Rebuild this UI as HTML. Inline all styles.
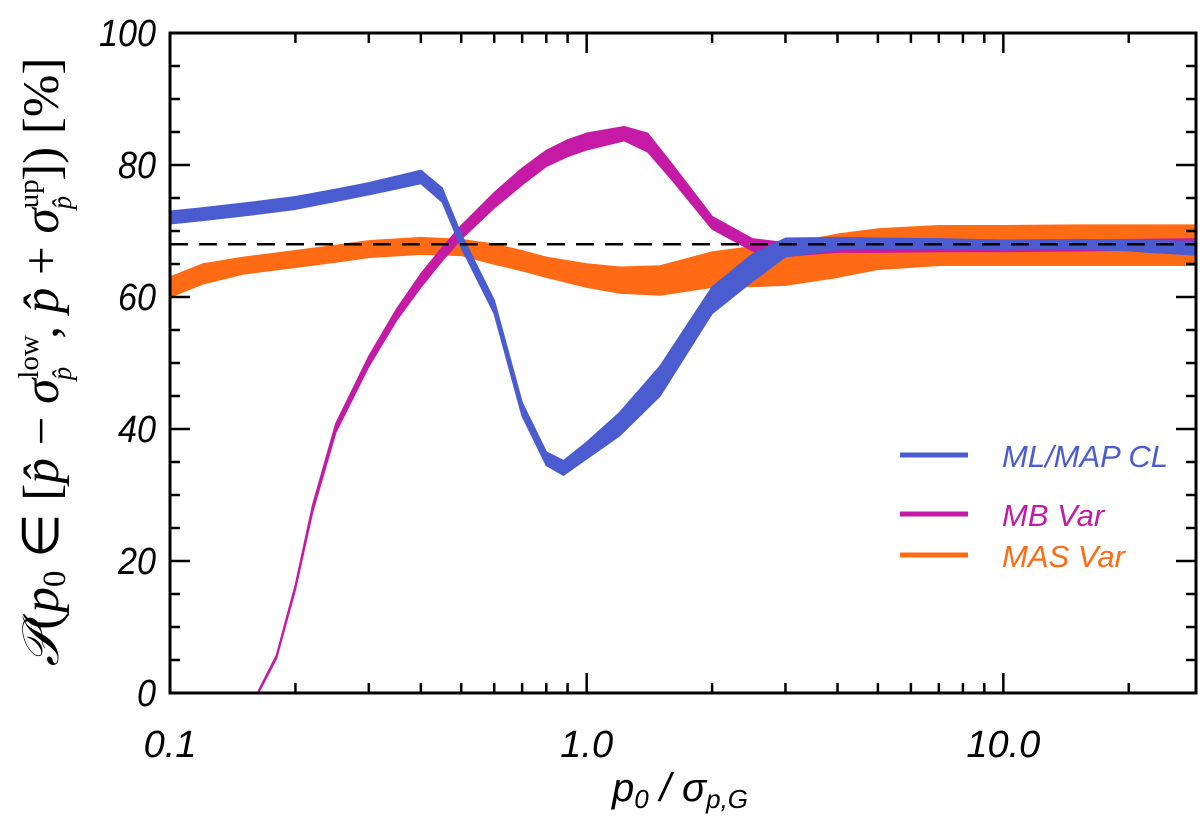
<!DOCTYPE html>
<html><head><meta charset="utf-8"><style>
html,body{margin:0;padding:0;background:#fff}
svg{display:block}
.sans{font-family:"Liberation Sans",sans-serif}
.serif{font-family:"Liberation Serif",serif}
</style></head><body>
<svg id="chart" width="1200" height="827" viewBox="0 0 1200 827">
<g id="bands"></g>
<g id="axes"></g>
<g id="legend" class="sans">
 <line x1="900" y1="455" x2="968" y2="455" stroke="#4a5ccf" stroke-width="5"/>
 <text x="1002" y="467" font-size="31" font-style="italic" fill="#4a5ccf">ML/MAP CL</text>
 <line x1="900" y1="514" x2="968" y2="514" stroke="#c41aa5" stroke-width="5"/>
 <text x="1002" y="526" font-size="31" font-style="italic" fill="#c41aa5">MB Var</text>
 <line x1="900" y1="555" x2="968" y2="555" stroke="#ff6a14" stroke-width="5"/>
 <text x="1002" y="567" font-size="31" font-style="italic" fill="#ff6a14">MAS Var</text>
</g>
<text class="sans" x="680" y="801" font-size="40" font-style="italic" text-anchor="middle">p<tspan font-size="26" dy="7">0</tspan><tspan dy="-7"> / σ</tspan><tspan font-size="26" dy="7">p,G</tspan></text>
<text class="serif" transform="translate(58,362) rotate(-90)" font-size="51" text-anchor="middle"><tspan font-style="italic">𝒫</tspan>(<tspan font-style="italic">p</tspan><tspan font-size="33" dy="7">0</tspan><tspan dy="-7"> ∈ [</tspan><tspan font-style="italic">p̂</tspan> − <tspan font-style="italic">σ</tspan><tspan font-size="29" dy="-20">low</tspan><tspan font-size="27" dx="-45" dy="33" font-style="italic">p̂</tspan><tspan dy="-13" dx="28">, </tspan><tspan font-style="italic">p̂</tspan> + <tspan font-style="italic">σ</tspan><tspan font-size="29" dy="-20">up</tspan><tspan font-size="27" dx="-30" dy="33" font-style="italic">p̂</tspan><tspan dy="-13" dx="15">]) [%]</tspan></text>
</svg>
<script>
const blueX=[0.1,0.12,0.15,0.2,0.25,0.3,0.35,0.4,0.45,0.5,0.6,0.7,0.8,0.88,1.0,1.2,1.5,2,2.5,3,4,5,7,10,15,20,30];
const blueLo=[71.1,71.6,72.3,73.3,74.5,75.5,76.4,77.2,74.4,67.5,57.5,42,34.5,33,35.5,39,45,57.5,62.4,66.1,67.2,67.3,67.4,67.2,67.3,67.0,66.3];
const blueHi=[73.0,73.5,74.2,75.2,76.3,77.3,78.3,79.2,76.5,69.5,59.5,44,36.5,35.2,38,42.5,49.5,61.5,66.5,68.9,69.0,68.9,68.8,68.6,68.7,68.6,68.4];
const magX=[0.163,0.18,0.2,0.22,0.25,0.3,0.35,0.4,0.45,0.5,0.6,0.7,0.8,0.9,1.0,1.23,1.4,1.6,2,2.5,3,4,5,7,10,15,20,30];
const magLo=[0,5.2,15.7,27.5,39.5,49.5,56.5,61.5,65.5,68.8,73.5,77,79.8,81.3,82.3,83.7,82,77.8,70.3,67.0,66.2,66.8,66.8,66.9,66.9,67.0,67.1,67.3];
const magHi=[0.3,5.7,16.4,28.5,40.8,51,58.2,63.5,67.5,70.8,75.8,79.5,82.2,83.8,84.8,85.8,84.8,80.2,72.2,68.8,68.2,68.5,68.5,68.5,68.6,68.6,68.7,68.8];
const oraX=[0.1,0.12,0.15,0.2,0.25,0.3,0.4,0.5,0.6,0.7,0.8,1.0,1.2,1.5,2,2.5,3,4,5,7,10,15,20,30];
const oraLo=[60.0,62,63.5,64.5,65.3,66,66.5,66.3,65,64,63,61.5,60.6,60.3,61.5,61.6,61.8,63,64.2,64.8,64.8,64.8,64.8,64.8];
const oraHi=[63.0,65,66,67,67.8,68.5,69,68.7,68,67,66,65,64.5,64.7,66.8,67.6,68,69.5,70.3,70.8,70.8,70.9,70.9,70.9];
const yTicks=[0,20,40,60,80,100];
const xTickLabels=["0.1","1.0","10.0"];
const xTickVals=[0.1,1,10];
const refLevel=68;

const L=170,R=1196,T=33,B=693,XMIN=0.1,XMAX=29;
const NS="http://www.w3.org/2000/svg";
function sx(v){return L+(Math.log10(v)-Math.log10(XMIN))/(Math.log10(XMAX)-Math.log10(XMIN))*(R-L);}
function sy(v){return B-v/100*(B-T);}
function mk(tag,attrs,parent){const e=document.createElementNS(NS,tag);for(const k in attrs)e.setAttribute(k,attrs[k]);parent.appendChild(e);return e;}
const bands=document.getElementById('bands'),axes=document.getElementById('axes');
const clip=mk('clipPath',{id:'clp'},bands);mk('rect',{x:L,y:T,width:R-L,height:B-T},clip);
function band(xs,lo,hi,color,name){
  let d='M'+xs.map((x,i)=>sx(x).toFixed(1)+','+sy(hi[i]).toFixed(1)).join('L');
  for(let i=xs.length-1;i>=0;i--)d+='L'+sx(xs[i]).toFixed(1)+','+sy(lo[i]).toFixed(1);
  d+='Z';
  const p=mk('path',{d:d,fill:color,stroke:color,'stroke-width':1.5,'stroke-linejoin':'round','clip-path':'url(#clp)'},bands);
  
  
}
band(oraX,oraLo,oraHi,'#ff6a14','band-mas-var');
band(magX,magLo,magHi,'#c41aa5','band-mb-var');
band(blueX,blueLo,blueHi,'#4a5ccf','band-ml-map-cl');
const ref=mk('line',{x1:L,x2:R,y1:sy(refLevel),y2:sy(refLevel),stroke:'#000','stroke-width':2.5,'stroke-dasharray':'18,11'},bands);


const fr=mk('rect',{x:L,y:T,width:R-L,height:B-T,fill:'none',stroke:'#000','stroke-width':3},axes);


for(let v=0;v<=100;v+=5){
  const len=(v%20===0)?20:10;
  mk('line',{x1:L,x2:L+len,y1:sy(v),y2:sy(v),stroke:'#000','stroke-width':2.5},axes);
  mk('line',{x1:R,x2:R-len,y1:sy(v),y2:sy(v),stroke:'#000','stroke-width':2.5},axes);
}
yTicks.forEach(v=>{
  const t=mk('text',{x:156,y:sy(v)+13,'font-size':38,'font-style':'italic','text-anchor':'end','class':'sans',transform:'translate(156,0) scale(0.9,1) translate(-156,0)'},axes);
  t.textContent=String(v);
  
  
});
for(let dec=0.1;dec<XMAX;dec*=10){
  for(let m=1;m<=9;m++){
    const v=dec*m; if(v>XMAX)break;
    const len=m===1?20:10;
    mk('line',{x1:sx(v),x2:sx(v),y1:B,y2:B-len,stroke:'#000','stroke-width':2.5},axes);
    mk('line',{x1:sx(v),x2:sx(v),y1:T,y2:T+len,stroke:'#000','stroke-width':2.5},axes);
  }
}
xTickVals.forEach((v,i)=>{
  const t=mk('text',{x:sx(v),y:757,'font-size':38,'font-style':'italic','text-anchor':'middle','class':'sans'},axes);
  t.textContent=xTickLabels[i];
  
  
});
</script>
</body></html>
